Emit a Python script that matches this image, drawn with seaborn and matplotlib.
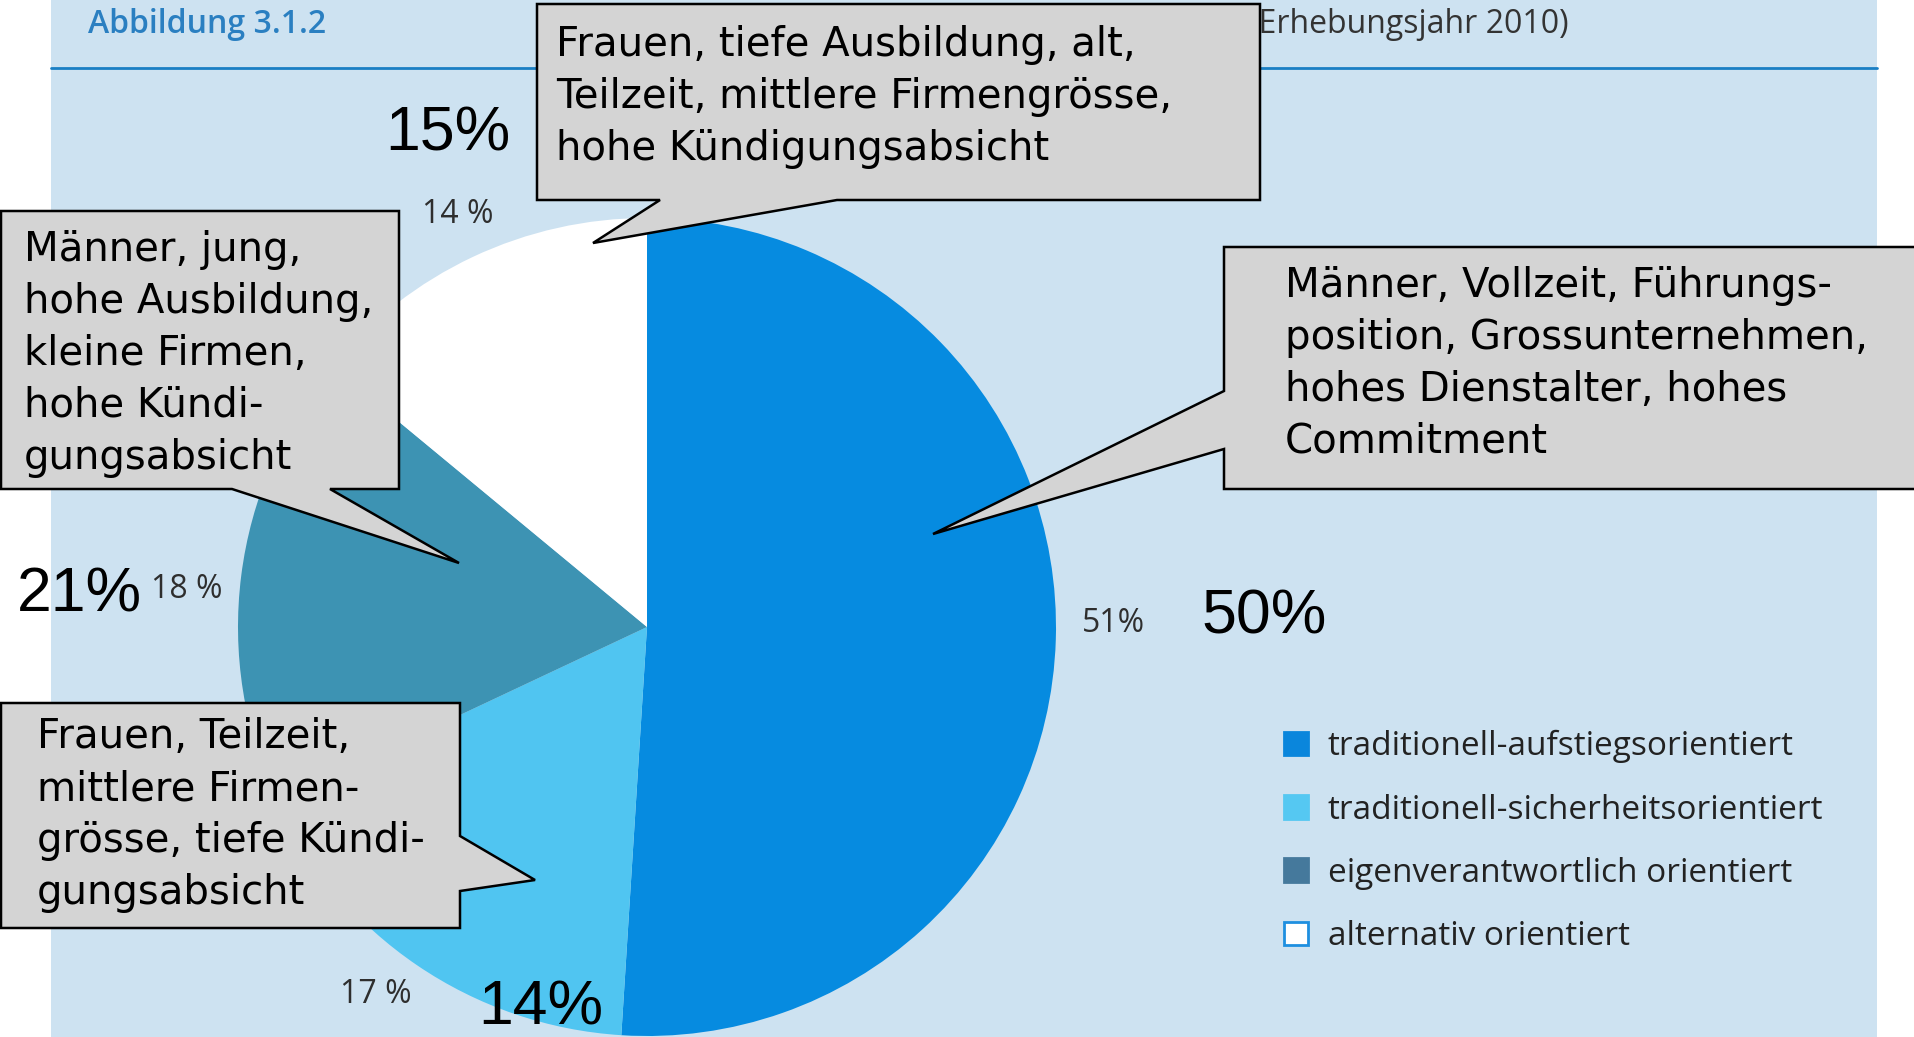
import matplotlib
matplotlib.use("Agg")
import matplotlib.pyplot as plt
from matplotlib.patches import Polygon, Rectangle
import seaborn as sns

# ------------------------------------------------------------------
# Data
# ------------------------------------------------------------------
categories = [
    "traditionell-aufstiegsorientiert",
    "traditionell-sicherheitsorientiert",
    "eigenverantwortlich orientiert",
    "alternativ orientiert",
]
shares_2010 = [51, 17, 18, 14]
share_labels_2010 = ["51%", "17 %", "18 %", "14 %"]
shares_new = [50, 14, 21, 15]

pie_colors = ["#068be0", "#50c5f1", "#3d93b3", "#ffffff"]
legend_colors = ["#0a86dc", "#55c8f2", "#45799c", "#ffffff"]

callout_texts = [
    "Männer, Vollzeit, Führungs-\nposition, Grossunternehmen,\nhohes Dienstalter, hohes\nCommitment",
    "Frauen, Teilzeit,\nmittlere Firmen-\ngrösse, tiefe Kündi-\ngungsabsicht",
    "Männer, jung,\nhohe Ausbildung,\nkleine Firmen,\nhohe Kündi-\ngungsabsicht",
    "Frauen, tiefe Ausbildung, alt,\nTeilzeit, mittlere Firmengrösse,\nhohe Kündigungsabsicht",
]

W, H = 1915, 1037

sns.set_style("white")
plt.rcParams["font.family"] = ["Open Sans", "DejaVu Sans"]

fig = plt.figure(figsize=(W / 100, H / 100), dpi=100)
ax = fig.add_axes([0, 0, 1, 1])

# Pie: the y axis is flipped below (pixel-style coords), so start at -90
# and run counterclockwise in data space = clockwise from 12 o'clock on screen
wedges, texts = ax.pie(
    shares_2010,
    colors=pie_colors,
    labels=share_labels_2010,
    labeldistance=1.14,
    startangle=-90,
    counterclock=True,
    center=(647, 627),
    radius=409,
    frame=True,
    wedgeprops=dict(linewidth=0),
    textprops=dict(ha="center", va="center", fontsize=23, color="#2e2e2e"),
)
for w in wedges:
    w.set_zorder(2)

# small nudges so the % labels sit where the original print has them
label_pos = [(1114, 623), (376, 995), (187, 589), (458, 214)]
for t, p in zip(texts, label_pos):
    t.set_position(p)

ax.set_xlim(0, W)
ax.set_ylim(H, 0)
ax.set_aspect("equal")
ax.axis("off")

# light blue panel + header
ax.add_patch(Rectangle((51, 0), 1826, H, facecolor="#cde2f1", edgecolor="none", zorder=0))
ax.plot([51, 1877], [68, 68], color="#1a7fc4", lw=2, zorder=1)
ax.text(88, 24, "Abbildung 3.1.2", fontsize=23, color="#2a7fc1", va="center", ha="left",
        fontweight="semibold", zorder=1)
ax.text(1569, 24, "(Erhebungsjahr 2010)", fontsize=23, color="#333333", va="center", ha="right",
        zorder=1)

# legend
leg = ax.legend(
    wedges, categories,
    loc="upper left", bbox_to_anchor=(1284, 730), bbox_transform=ax.transData,
    frameon=False, fontsize=24, handlelength=0.72, handleheight=0.72,
    handletextpad=0.6, labelspacing=0.91, borderpad=0, borderaxespad=0,
    labelcolor="#222222",
)
for patch, col in zip(leg.get_patches(), legend_colors):
    patch.set_facecolor(col)
    patch.set_edgecolor("#1e8fe0" if col == "#ffffff" else col)
    patch.set_linewidth(2)

# callouts (speech bubbles)
bubbles = [
    [(1224, 247), (1930, 247), (1930, 489), (1224, 489), (1224, 449), (933, 534), (1224, 391)],
    [(1, 703), (460, 703), (460, 836), (535, 880), (460, 891), (460, 928), (1, 928)],
    [(1, 211), (399, 211), (399, 489), (330, 489), (459, 563), (232, 489), (1, 489)],
    [(537, 4), (1260, 4), (1260, 200), (837, 200), (593, 243), (660, 200), (537, 200)],
]
text_pos = [(1285, 364), (37, 815), (24, 354), (556, 97)]
for verts, txt, (tx, ty) in zip(bubbles, callout_texts, text_pos):
    ax.add_patch(Polygon(verts, closed=True, facecolor="#d4d4d4", edgecolor="black",
                         lw=1.8, joinstyle="miter", zorder=5))
    ax.text(tx, ty, txt, fontsize=29, family=["DejaVu Sans"], color="black",
            ha="left", va="center", linespacing=1.38, zorder=6)

# newer shares written over the chart
big_pos = [(1264, 617), (541, 1008), (79, 595), (448, 134)]
for v, (bx, by) in zip(shares_new, big_pos):
    ax.text(bx, by, f"{v}%", fontsize=45, family=["Liberation Sans", "DejaVu Sans"],
            color="black", ha="center", va="center", zorder=7)

fig.savefig("out.png", dpi=100, facecolor="white")
